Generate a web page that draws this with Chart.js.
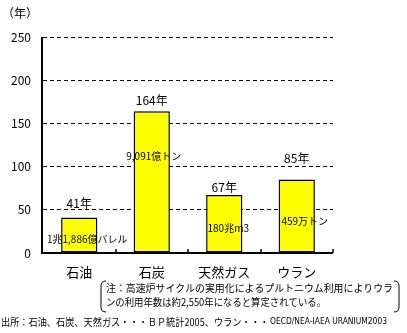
<!DOCTYPE html>
<html>
<head>
<meta charset="utf-8">
<script src="https://cdn.jsdelivr.net/npm/chart.js@4"></script>
<style>
  html, body { margin: 0; padding: 0; background: #fff; }
  #wrap { width: 407px; height: 333px; position: relative; }
</style>
</head>
<body>
<div id="wrap"><canvas id="myBarChart"></canvas></div>
<script>
// data
const categories = ['石油', '石炭', '天然ガス', 'ウラン'];
const years = [41, 164, 67, 85];
const yearLabels = ['41年', '164年', '67年', '85年'];
const reserveLabels = ['1兆1,886億バレル', '9,091億トン', '180兆m3', '459万トン'];
const yTicks = [0, 50, 100, 150, 200, 250];
const noteLines = [
  '注：高速炉サイクルの実用化によるプルトニウム利用によりウラ',
  'ンの利用年数は約2,550年になると算定されている。'
];
const sourceJa = '出所：石油、石炭、天然ガス・・・ＢＰ統計2005、ウラン・・・';
const sourceEn = 'OECD/NEA-IAEA URANIUM2003';

const FONT = '"Noto Sans CJK JP", "Noto Sans", sans-serif';

// labels were placed by hand in the original, so nudge them per bar
const topGap = [14, 11, 8, 21];      // px above bar top
const innerDrop = [22, 45, 33, 42];  // px below bar top
const innerShift = [8, 2, 4, 8];     // px right of bar centre

const extras = {
  id: 'extras',
  afterDraw(chart) {
    const ctx = chart.ctx;
    const a = chart.chartArea;
    const meta = chart.getDatasetMeta(0);
    ctx.save();

    // axes
    ctx.strokeStyle = '#000';
    ctx.lineWidth = 2;
    ctx.beginPath();
    ctx.moveTo(a.left - 1, a.top);
    ctx.lineTo(a.left - 1, a.bottom);
    ctx.lineTo(a.right, a.bottom);
    ctx.stroke();
    // small ticks between categories, pointing up
    ctx.lineWidth = 1.5;
    for (let i = 1; i <= categories.length; i++) {
      const px = Math.round(a.left + (a.right - a.left) * i / categories.length);
      ctx.beginPath();
      ctx.moveTo(px, a.bottom);
      ctx.lineTo(px, a.bottom - 4);
      ctx.stroke();
    }

    ctx.fillStyle = '#000';
    ctx.textAlign = 'center';
    ctx.textBaseline = 'middle';
    meta.data.forEach((bar, i) => {
      ctx.font = '12px ' + FONT;
      ctx.fillText(yearLabels[i], bar.x, bar.y - topGap[i]);
      ctx.font = '10px ' + FONT;
      ctx.fillText(reserveLabels[i], bar.x + innerShift[i], bar.y + innerDrop[i]);
    });

    // unit
    ctx.font = '12px ' + FONT;
    ctx.textAlign = 'left';
    ctx.fillText('（年）', 2, 13);

    // note with bracket
    ctx.lineWidth = 1;
    ctx.beginPath();
    ctx.moveTo(106, 281);
    ctx.quadraticCurveTo(101, 281, 101, 286);
    ctx.lineTo(101, 307);
    ctx.quadraticCurveTo(101, 312, 106, 312);
    ctx.moveTo(394, 281);
    ctx.quadraticCurveTo(399, 281, 399, 286);
    ctx.lineTo(399, 307);
    ctx.quadraticCurveTo(399, 312, 394, 312);
    ctx.stroke();
    ctx.font = '10px ' + FONT;
    ctx.fillText(noteLines[0], 106, 288, 287);
    ctx.fillText(noteLines[1], 106, 302, 220);

    // source
    ctx.fillText(sourceJa, 1, 322, 268);
    ctx.font = '9px "DejaVu Sans", sans-serif';
    ctx.fillText(sourceEn, 270, 322, 117);
    ctx.restore();
  }
};

const ctx = document.getElementById('myBarChart').getContext('2d');
const myBarChart = new Chart(ctx, {
  type: 'bar',
  data: {
    labels: categories,
    datasets: [{
      data: years,
      backgroundColor: '#ffff00',
      borderColor: '#000',
      borderWidth: 1.5,
      borderSkipped: false,
      barPercentage: 0.5,
      categoryPercentage: 1
    }]
  },
  options: {
    responsive: true,
    maintainAspectRatio: false,
    animation: false,
    layout: { padding: { top: 37, right: 74, bottom: 40, left: 0 } },
    plugins: { legend: { display: false }, tooltip: { enabled: false } },
    scales: {
      x: {
        grid: { display: false, drawTicks: false },
        border: { display: false },
        ticks: { color: '#000', font: { family: FONT, size: 13 }, padding: 11, maxRotation: 0 },
        afterFit(scale) { scale.height = 40; }
      },
      y: {
        min: 0,
        max: 250,
        afterBuildTicks(scale) { scale.ticks = yTicks.map(v => ({ value: v })); },
        grid: { color: '#000', lineWidth: 1, drawTicks: false },
        border: { display: false, dash: [4, 3] },
        ticks: { color: '#000', font: { family: FONT, size: 12 }, padding: 12 },
        afterFit(scale) { scale.width = 43; }
      }
    }
  },
  plugins: [extras]
});
</script>
</body>
</html>
